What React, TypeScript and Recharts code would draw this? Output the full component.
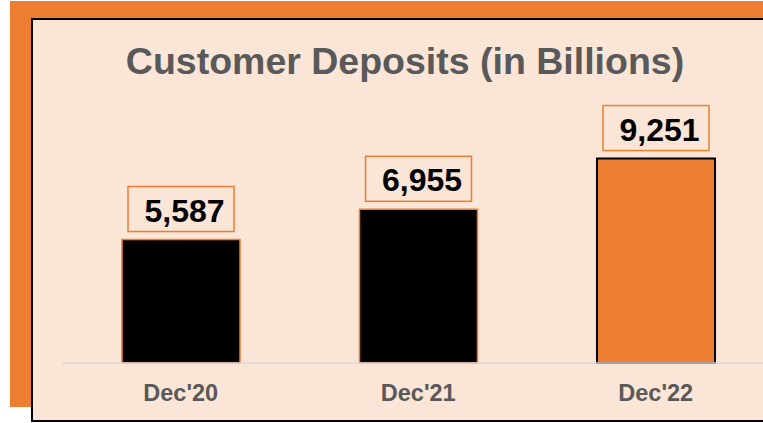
import React from 'react';
import { BarChart, Bar, XAxis, YAxis, Cell, LabelList } from 'recharts';

const periods = ["Dec'20", "Dec'21", "Dec'22"];
const deposits = [5587, 6955, 9251];
const barFills = ['#000000', '#000000', '#ED7D31'];
const barStrokes = ['#ED7D31', '#ED7D31', '#000000'];

const ORANGE = '#ED7D31';
const PEACH = '#FBE5D6';
const FONT = '"Liberation Sans", Arial, sans-serif';

const data = periods.map((p, i) => ({ period: p, value: deposits[i] }));

const ValueBox = (props: any) => {
  const { x, y, width, value } = props;
  const cx = x + width / 2;
  return (
    <g>
      <rect x={cx - 53} y={y - 53} width={106} height={45} fill="none" stroke={ORANGE} strokeWidth={1.5} />
      <text x={cx + 3.5} y={y - 18} textAnchor="middle" fontFamily={FONT} fontWeight="bold" fontSize={32} fill="#000">
        {Number(value).toLocaleString('en-US')}
      </text>
    </g>
  );
};

const PeriodTick = (props: any) => {
  const { x, y, payload } = props;
  return (
    <text x={x} y={y + 30} textAnchor="middle" fontFamily={FONT} fontWeight="bold" fontSize={23.5} fill="#595959">
      {payload.value}
    </text>
  );
};

export default function App() {
  return (
    <div style={{ position: 'absolute', left: 0, top: 0, width: 763, height: 423, overflow: 'hidden', background: '#fff' }}>
      <div style={{ position: 'absolute', left: 10, top: 1, width: 753, height: 406, background: ORANGE }} />
      <div
        style={{
          position: 'absolute', left: 31, top: 18, width: 760, height: 404, boxSizing: 'border-box',
          background: PEACH, border: '2px solid #000',
        }}
      />
      <div
        style={{
          position: 'absolute', left: 0, top: 42.5, width: 810, textAlign: 'center', fontFamily: FONT,
          fontWeight: 'bold', fontSize: 37.5, lineHeight: '37.5px', color: '#595959',
        }}
      >
        Customer Deposits (in Billions)
      </div>
      <div style={{ position: 'absolute', left: 0, top: 0 }}>
        <BarChart width={800} height={423} data={data} margin={{ top: 142, right: 25.5, bottom: 0, left: 62 }}>
          <XAxis
            dataKey="period"
            height={60}
            axisLine={{ stroke: '#D9D9D9', strokeWidth: 1.5 }}
            tickLine={false}
            tick={<PeriodTick />}
            interval={0}
          />
          <YAxis hide domain={[0, 10000]} />
          <Bar dataKey="value" barSize={118} isAnimationActive={false}>
            {data.map((d, i) => (
              <Cell key={d.period} fill={barFills[i]} stroke={barStrokes[i]} strokeWidth={i === 2 ? 2 : 1.5} />
            ))}
            <LabelList dataKey="value" content={<ValueBox />} />
          </Bar>
        </BarChart>
      </div>
    </div>
  );
}
